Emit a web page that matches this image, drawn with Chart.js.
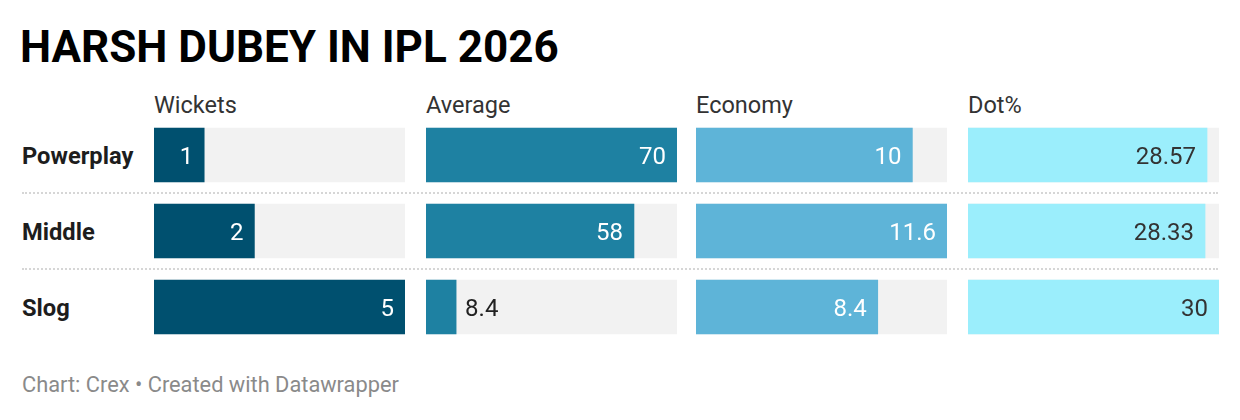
<!DOCTYPE html>
<html>
<head>
<meta charset="utf-8">
<script src="https://cdn.jsdelivr.net/npm/chart.js@4"></script>
<style>
  html,body{margin:0;padding:0;background:#fff;}
  body{width:1240px;height:420px;position:relative;overflow:hidden;font-family:Roboto,"Noto Sans",sans-serif;}
  .title{position:absolute;left:20px;top:22px;font-size:44px;font-weight:700;color:#000;line-height:50px;}
  .head{position:absolute;top:91px;font-size:23.5px;color:#333;line-height:28px;}
  .row{position:absolute;left:22px;font-size:23.7px;font-weight:700;color:#1d1d1d;line-height:30px;}
  .sep{position:absolute;left:22px;width:1196px;height:0;border-top:2px dotted #d6d6d6;}
  .col{position:absolute;top:117px;width:251px;height:228px;}
  .foot{position:absolute;left:22px;top:373px;font-size:21.8px;color:#8a8a8a;line-height:24px;}
</style>
</head>
<body>
<div class="title">HARSH DUBEY IN IPL 2026</div>
<div id="labels"></div>
<div class="foot">Chart: Crex • Created with Datawrapper</div>

<script>
// Datos (Harsh Dubey, IPL 2026, por fase)
const fases     = ["Powerplay", "Middle", "Slog"];
const columnas  = ["Wickets", "Average", "Economy", "Dot%"];
const wickets   = [1, 2, 5];
const average   = [70, 58, 8.4];
const economy   = [10, 11.6, 8.4];
const dotPct    = [28.57, 28.33, 30];

const series    = [wickets, average, economy, dotPct];
const colores   = ["#00506f", "#1e81a2", "#5eb4d8", "#9beefc"];
const colorTxt  = ["#ffffff", "#ffffff", "#ffffff", "#333333"];

// posiciones de columna y filas (layout)
const COL_X = [154, 426, 696, 968];
const ROW_C = [155, 231, 307];
const SEP_Y = [192, 268];

const labels = document.getElementById('labels');
columnas.forEach((c,i)=>{
  const d = document.createElement('div');
  d.className = 'head'; d.style.left = COL_X[i]+'px'; d.textContent = c;
  labels.appendChild(d);
});
fases.forEach((f,i)=>{
  const d = document.createElement('div');
  d.className = 'row'; d.style.top = (ROW_C[i]-14)+'px'; d.textContent = f;
  labels.appendChild(d);
});
SEP_Y.forEach(y=>{
  const d = document.createElement('div');
  d.className = 'sep'; d.style.top = y+'px';
  labels.appendChild(d);
});

// etiqueta de valor: dentro de la barra a la derecha, o afuera si no entra
const valueLabels = {
  id:'valueLabels',
  afterDatasetsDraw(chart, args, opts){
    const ctx = chart.ctx;
    const meta = chart.getDatasetMeta(0);
    const vals = chart.data.datasets[0].data;
    ctx.save();
    ctx.font = '24px Roboto, "Noto Sans", sans-serif';
    ctx.textBaseline = 'alphabetic';
    meta.data.forEach((bar,i)=>{
      const txt = String(vals[i]);
      const w = ctx.measureText(txt).width;
      const y = bar.y + 8.5;
      if (bar.x - bar.base > w + 20){
        ctx.fillStyle = opts.color;
        ctx.textAlign = 'right';
        ctx.fillText(txt, bar.x - 11, y);
      } else {
        ctx.fillStyle = '#222';
        ctx.textAlign = 'left';
        ctx.fillText(txt, bar.x + 9, y);
      }
    });
    ctx.restore();
  }
};

const charts = [];
series.forEach((vals,i)=>{
  const wrap = document.createElement('div');
  wrap.className = 'col'; wrap.style.left = COL_X[i]+'px';
  const cv = document.createElement('canvas');
  wrap.appendChild(cv);
  document.body.appendChild(wrap);
  const maxV = Math.max(...vals);
  charts.push(new Chart(cv.getContext('2d'),{
    type:'bar',
    data:{
      labels: fases,
      datasets:[
        {data: vals, backgroundColor: colores[i], barThickness:54, grouped:false, order:0, borderWidth:0},
        {data: vals.map(()=>maxV), backgroundColor:'#f2f2f2', barThickness:54, grouped:false, order:1, borderWidth:0}
      ]
    },
    options:{
      indexAxis:'y', responsive:true, maintainAspectRatio:false, animation:false,
      layout:{padding:0},
      plugins:{legend:{display:false}, tooltip:{enabled:false}, valueLabels:{color: colorTxt[i]}},
      scales:{
        x:{display:false, min:0, max:maxV},
        y:{display:false}
      }
    },
    plugins:[valueLabels]
  }));
});
</script>
</body>
</html>
